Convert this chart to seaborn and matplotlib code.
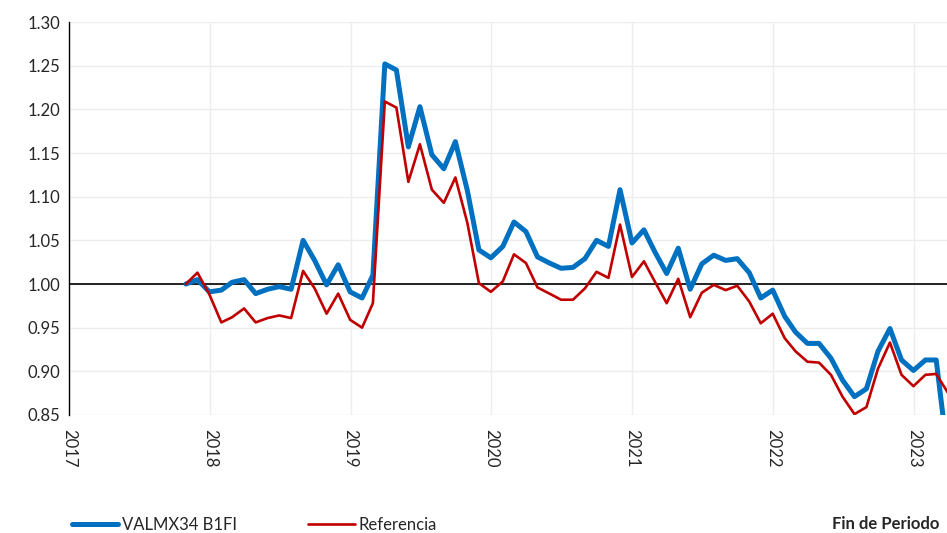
import numpy as np
import pandas as pd
import seaborn as sns
import matplotlib.pyplot as plt
import matplotlib.dates as mdates

# datos mensuales (fin de periodo), desde oct-2017
fechas = pd.date_range('2017-10-31', periods=66, freq='ME')

valmx = [1.000, 1.005, 0.991, 0.993, 1.002, 1.005, 0.989, 0.994, 0.997, 0.994,
         1.050, 1.027, 0.999, 1.022, 0.991, 0.984, 1.010, 1.252, 1.245, 1.157,
         1.203, 1.148, 1.132, 1.163, 1.107, 1.039, 1.030, 1.043, 1.071, 1.060,
         1.031, 1.024, 1.018, 1.019, 1.029, 1.050, 1.043, 1.108, 1.047, 1.062,
         1.037, 1.012, 1.041, 0.994, 1.023, 1.033, 1.027, 1.029, 1.013, 0.984,
         0.993, 0.963, 0.945, 0.932, 0.932, 0.915, 0.890, 0.871, 0.880, 0.923,
         0.949, 0.913, 0.901, 0.913, 0.913, 0.800]

referencia = [1.000, 1.013, 0.988, 0.956, 0.962, 0.972, 0.956, 0.961, 0.964, 0.961,
              1.015, 0.995, 0.966, 0.989, 0.959, 0.950, 0.978, 1.209, 1.202, 1.117,
              1.160, 1.108, 1.093, 1.122, 1.070, 1.001, 0.991, 1.003, 1.034, 1.024,
              0.996, 0.989, 0.982, 0.982, 0.995, 1.014, 1.007, 1.068, 1.008, 1.026,
              1.003, 0.978, 1.006, 0.962, 0.990, 0.999, 0.993, 0.998, 0.980, 0.955,
              0.966, 0.938, 0.923, 0.911, 0.910, 0.896, 0.871, 0.851, 0.859, 0.903,
              0.933, 0.896, 0.883, 0.896, 0.897, 0.875]

anios = [2017, 2018, 2019, 2020, 2021, 2022, 2023]
yticks = [0.85, 0.90, 0.95, 1.00, 1.05, 1.10, 1.15, 1.20, 1.25, 1.30]

df = pd.DataFrame({'fecha': fechas, 'VALMX34 B1FI': valmx, 'Referencia': referencia})

sns.set_style('white')
plt.rcParams['font.family'] = ['Lato', 'DejaVu Sans']

fig = plt.figure(figsize=(9.47, 5.33), dpi=100)
ax = fig.add_axes([0.0729, 0.2214, 0.9271, 0.7373])

ax.grid(True, color='#EDEDED', linewidth=1.0)
ax.set_axisbelow(True)

sns.lineplot(data=df, x='fecha', y='VALMX34 B1FI', ax=ax, color='#0070C0',
             linewidth=3.6, label='VALMX34 B1FI')
sns.lineplot(data=df, x='fecha', y='Referencia', ax=ax, color='#C00000',
             linewidth=1.9, label='Referencia')
ax.axhline(1.0, color='black', linewidth=1.2, zorder=1.5)

ax.set_xlim(pd.Timestamp('2017-01-01'), pd.Timestamp('2023-03-28'))
ax.set_ylim(0.85, 1.30)
ax.set_yticks(yticks)
ax.set_yticklabels([f'{v:.2f}' for v in yticks])
ax.set_xticks([pd.Timestamp(f'{a}-01-01') for a in anios])
ax.xaxis.set_major_formatter(mdates.DateFormatter('%Y'))
ax.tick_params(axis='x', labelrotation=-90, length=0, pad=10, labelsize=12)
ax.tick_params(axis='y', length=0, pad=6, labelsize=12)
for lab in ax.get_xticklabels():
    lab.set_verticalalignment('top')

for s in ['top', 'right', 'bottom']:
    ax.spines[s].set_visible(False)
ax.spines['left'].set_color('black')
ax.spines['left'].set_linewidth(1.0)
ax.set_xlabel('')
ax.set_ylabel('')

handles, labels = ax.get_legend_handles_labels()
ax.get_legend().remove()
fig.legend(handles, labels, loc='lower left', bbox_to_anchor=(0.06, -0.028),
           ncol=2, frameon=False, fontsize=12, handlelength=2.8,
           handletextpad=0.2, columnspacing=4.3)
fig.text(0.992, 0.002, 'Fin de Periodo', ha='right', va='bottom',
         fontsize=12, fontweight='bold')

fig.savefig('out.png', dpi=100)
